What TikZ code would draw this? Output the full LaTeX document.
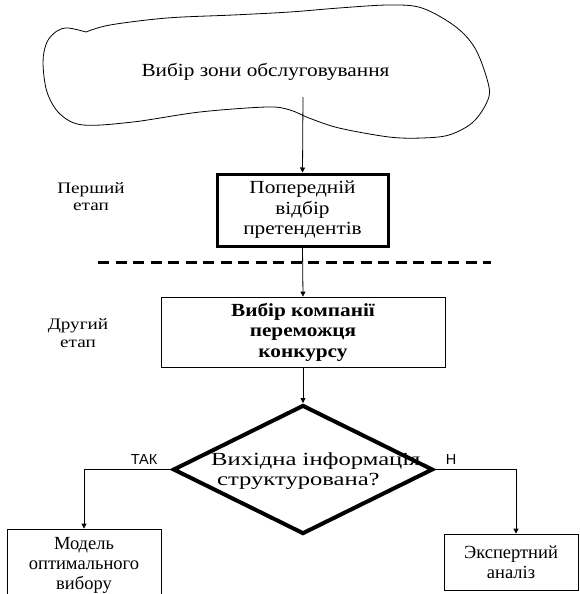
\documentclass[tikz,border=0pt]{standalone}
\usepackage{fontspec}
\setmainfont{Liberation Serif}
\newfontfamily\labsans{Liberation Sans}
\newfontfamily\fwide{Liberation Serif}[FakeStretch=1.15]
\newfontfamily\fdia{Liberation Serif}[FakeStretch=1.33]
\newfontfamily\fstage{Liberation Serif}[FakeStretch=1.2]
\usetikzlibrary{shapes.geometric,arrows.meta}
\tikzset{
  txt/.style={font=\fwide\fontsize{18.5}{20.5}\selectfont, align=center, inner sep=0},
  plaintxt/.style={font=\fontsize{18.5}{20}\selectfont, align=center, inner sep=0},
  stagelab/.style={font=\fstage\fontsize{16}{17.5}\selectfont, align=center, inner sep=0},
  anslab/.style={font=\labsans\fontsize{14.5}{16}\selectfont, inner sep=0},
  flow/.style={draw, line width=0.8pt, -{Triangle[length=5pt,width=5pt]}},
  thinbox/.style={draw, line width=0.8pt, inner sep=0},
  thickbox/.style={draw, line width=3pt, inner sep=0},
}
\begin{document}
\begin{tikzpicture}[x=1pt,y=-1pt]
\useasboundingbox (0,0) rectangle (579,594);
% cloud
\draw[line width=0.8pt] plot[smooth, tension=0.55] coordinates {
  (86,32) (110,25) (167,18) (233,15) (290,12) (339,8) (389,5) (422,8) (456,27)
  (476,50) (489,87) (486,104) (472,123) (449,135) (422,138) (389,137) (339,128)
  (309,118) (290,110) (267,107) (200,112) (133,122) (83,125) (60,114) (47,92)
  (43,62) (47,42) (57,31) (68,28) (86,32)};
\node[txt] (zone) at (265.5,72) {Вибір зони обслуговування};
\coordinate (zs) at (303,97);
% first stage
\node[thickbox, minimum width=171, minimum height=72, txt] (pre) at (302.5,210)
  {Попередній\\відбір\\претендентів};
\node[stagelab] (st1) at (91,196.5) {Перший\\етап};
\draw[line width=3pt, dash pattern=on 11pt off 6.5pt] (98,262) -- (491,262);
% second stage
\node[thinbox, minimum width=284, minimum height=70, txt,
  font=\fwide\fontsize{18.5}{20.5}\selectfont\bfseries] (win) at (303,332)
  {Вибір компанії\\переможця\\конкурсу};
\node[stagelab] (st2) at (78,333) {Другий\\етап};
% decision
\node[diamond, draw, line width=4pt, minimum width=260, minimum height=129, inner sep=0] (dec) at (303,469.5) {};
\node[font=\fdia\fontsize{18.5}{20}\selectfont, align=left, inner sep=0, anchor=west] (dect) at (211,471)
  {Вихідна інформація\\\hspace*{6pt}структурована?};
% outcomes
\node[thinbox, minimum width=154, minimum height=72, plaintxt] (model) at (84,565)
  {Модель\\оптимального\\вибору};
\node[thinbox, minimum width=134, minimum height=56, plaintxt] (exp) at (511,562)
  {Экспертний\\аналіз};
\node[anslab] (yes) at (144,460) {ТАК};
\node[anslab] (no) at (451,460) {Н};
% connectors
\draw[flow] (zs) -- (pre.north);
\draw[flow] (pre.south) -- (win.north);
\draw[flow] (win.south) -- (dec.north);
\draw[flow] (dec.west) -| (model.north);
\draw[flow] (dec.east) -| ([xshift=5pt]exp.north);
\end{tikzpicture}
\end{document}
